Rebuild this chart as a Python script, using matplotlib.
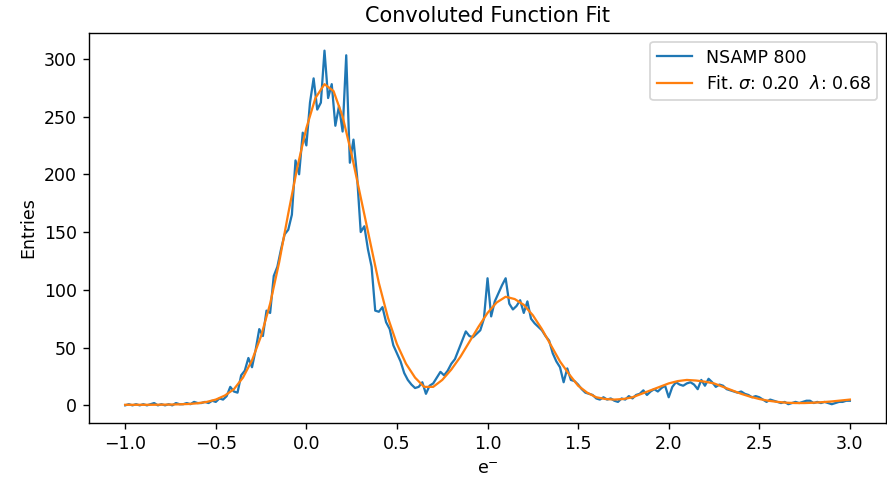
import matplotlib
matplotlib.use("Agg")
import matplotlib.pyplot as plt
import numpy as np

# histogram of the samples (bin width 0.02, from -1 to 3)
entries = [
    0, 1, 0, 1, 0, 1, 0, 1, 2, 0,          # -1.00 .. -0.82
    1, 0, 1, 0, 2, 1, 1, 2, 1, 3,          # -0.80 .. -0.62
    2, 2, 3, 2, 4, 3, 6, 5, 8, 16,         # -0.60 .. -0.42
    12, 11, 26, 30, 41, 33, 48, 66, 60, 82,  # -0.40 .. -0.22
    80, 112, 120, 135, 148, 152, 165, 212, 200, 236,  # -0.20 .. -0.02
    225, 262, 283, 256, 262, 307, 266, 278, 242, 259,  # 0.00 .. 0.18
    237, 303, 210, 230, 198, 150, 155, 135, 120, 82,   # 0.20 .. 0.38
    81, 85, 72, 66, 52, 45, 38, 28, 22, 18,           # 0.40 .. 0.58
    15, 16, 20, 10, 17, 19, 24, 29, 26, 30,           # 0.60 .. 0.78
    36, 40, 48, 56, 64, 60, 59, 62, 65, 75,           # 0.80 .. 0.98
    110, 77, 90, 97, 104, 110, 88, 83, 86, 91,        # 1.00 .. 1.18
    80, 90, 75, 71, 68, 65, 60, 56, 45, 38,           # 1.20 .. 1.38
    33, 20, 32, 22, 21, 18, 14, 11, 10, 9,            # 1.40 .. 1.58
    6, 5, 7, 5, 6, 4, 3, 6, 5, 8,                     # 1.60 .. 1.78
    6, 9, 10, 13, 9, 12, 14, 12, 15, 17,              # 1.80 .. 1.98
    7, 16, 20, 18, 17, 19, 20, 18, 14, 22,            # 2.00 .. 2.18
    17, 23, 20, 16, 18, 17, 14, 13, 12, 11,           # 2.20 .. 2.38
    12, 10, 9, 7, 8, 7, 5, 3, 5, 4,                   # 2.40 .. 2.58
    3, 2, 3, 1, 2, 3, 2, 3, 4, 4,                     # 2.60 .. 2.78
    2, 3, 2, 3, 2, 1, 2, 3, 3, 4,                     # 2.80 .. 2.98
    4,                                                # 3.00
]

# fitted curve (every 0.05)
fit_vals = [
    0.5, 0.5, 0.5, 0.5, 0.6, 0.7, 0.9, 1.2, 1.8, 3,
    5, 8.5, 14, 24, 39, 60, 88, 124, 166, 206,
    240, 266, 278, 272, 250, 217, 180, 143, 106, 76,
    53, 36, 24, 16, 16, 22, 31, 42, 55, 68,
    80, 89, 94, 92, 87, 78, 66, 52, 38, 27,
    17, 11, 7, 5.5, 5, 5.5, 7, 10, 13, 16,
    19, 21, 22, 21.5, 20.5, 19, 16, 13, 10, 7.5,
    5.5, 4, 3, 2.3, 2, 2, 2.3, 2.8, 3.4, 4.2,
    5,
]

x_data = np.linspace(-1, 3, len(entries))
x_fit = np.linspace(-1, 3, len(fit_vals))

DPI = 125
fig = plt.figure(figsize=(887 / DPI, 477 / DPI), dpi=DPI)
ax = fig.add_axes([0.1003, 0.113, 0.8987, 0.818])

ax.plot(x_data, entries, lw=1.3, label='NSAMP 800')
ax.plot(x_fit, fit_vals, lw=1.3, label=r'Fit. $\sigma$: 0.20  $\lambda$: 0.68')

ax.set_title('Convoluted Function Fit')
ax.set_xlabel(r'e$^{-}$')
ax.set_ylabel('Entries')
ax.legend(loc='upper right')

fig.savefig('out.png', dpi=DPI)
